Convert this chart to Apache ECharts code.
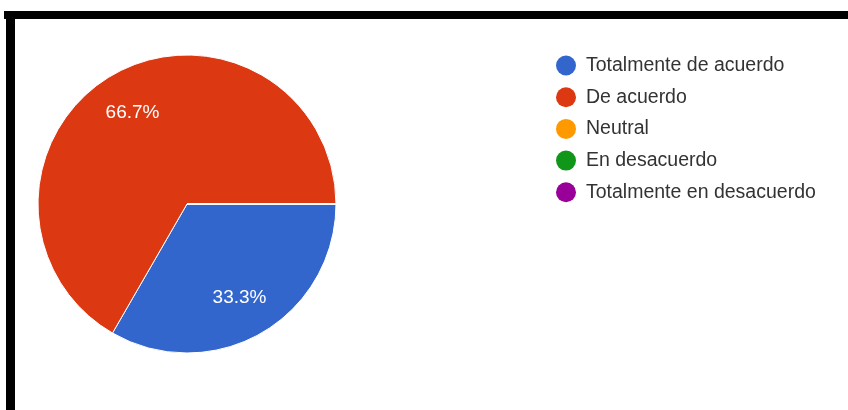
<!DOCTYPE html>
<html>
<head>
<meta charset="utf-8">
<script src="https://cdn.jsdelivr.net/npm/echarts@6/dist/echarts.min.js"></script>
<style>
html,body{margin:0;padding:0;background:#fff;}
#chart{width:848px;height:410px;}
</style>
</head>
<body>
<div id="chart"></div>
<script>
const categories = ['Totalmente de acuerdo', 'De acuerdo', 'Neutral', 'En desacuerdo', 'Totalmente en desacuerdo'];
const values = [1, 2, 0, 0, 0];
const colors = ['#3366cc', '#dc3912', '#ff9900', '#109618', '#990099'];

const data = categories.map((c, i) => ({ name: c, value: values[i] }));

const chart = echarts.init(document.getElementById('chart'));
chart.setOption({
  animation: false,
  color: colors,
  legend: {
    orient: 'vertical',
    left: 556,
    top: 55.5,
    padding: 0,
    icon: 'circle',
    itemWidth: 20,
    itemHeight: 20,
    itemGap: 11.7,
    itemStyle: { borderWidth: 0 },
    textStyle: { fontFamily: '"Liberation Sans", Arial, sans-serif', fontSize: 19.5, color: '#333', padding: [0, 0, 0, 5] },
    data: categories
  },
  graphic: [
    { type: 'rect', shape: { x: 4, y: 11, width: 848, height: 8 }, style: { fill: '#000' } },
    { type: 'rect', shape: { x: 6, y: 11, width: 9, height: 400 }, style: { fill: '#000' } }
  ],
  series: [
    {
      type: 'pie',
      center: [187, 204],
      radius: [0, 149],
      startAngle: 0,
      clockwise: true,
      silent: true,
      itemStyle: { borderColor: '#fff', borderWidth: 1 },
      label: { show: false },
      labelLine: { show: false },
      data: data
    },
    {
      type: 'pie',
      center: [186, 205],
      radius: [59, 149],
      startAngle: 0,
      clockwise: true,
      silent: true,
      percentPrecision: 1,
      itemStyle: { color: 'rgba(0,0,0,0)', borderWidth: 0 },
      label: {
        show: true,
        position: 'inside',
        color: '#fff',
        fontFamily: '"Liberation Sans", Arial, sans-serif',
        fontSize: 19,
        formatter: p => p.value > 0 ? p.percent.toFixed(1) + '%' : ''
      },
      labelLine: { show: false },
      data: data
    }
  ]
});
</script>
</body>
</html>
